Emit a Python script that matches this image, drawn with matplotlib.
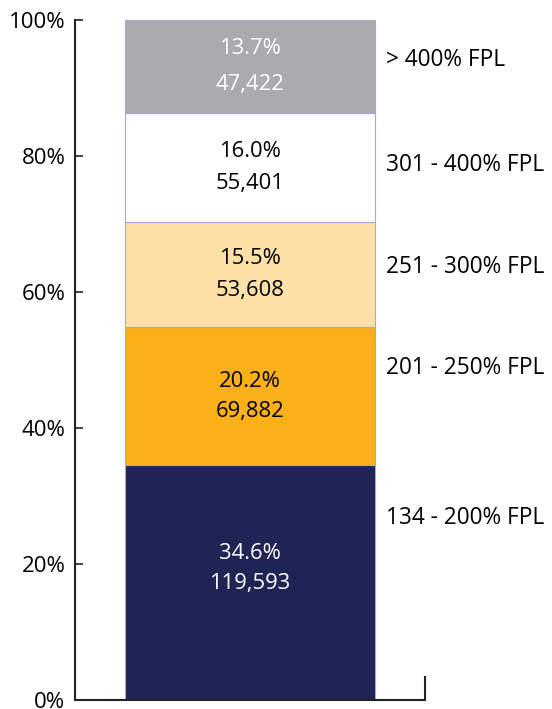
import matplotlib
matplotlib.use("Agg")
import matplotlib.pyplot as plt

categories = ["134 - 200% FPL", "201 - 250% FPL", "251 - 300% FPL", "301 - 400% FPL", "> 400% FPL"]
shares = [34.6, 20.2, 15.5, 16.0, 13.7]
counts = ["119,593", "69,882", "53,608", "55,401", "47,422"]
colors = ["#1f2455", "#fbb017", "#fde0a6", "#ffffff", "#aaabaf"]
text_colors = ["white", "black", "black", "black", "white"]
yticks = [0, 20, 40, 60, 80, 100]
ytick_labels = ["0%", "20%", "40%", "60%", "80%", "100%"]

# layout: y position (in axis %) of the right-hand labels, and line gap inside bars
right_label_y = [26.8, 48.8, 63.7, 78.7, 94.1]
inner_gap = [2.2, 2.2, 2.4, 2.4, 2.7]
inner_offset = [2.1, 0, 0, 0, 0]

plt.rcParams["font.family"] = ["Open Sans", "DejaVu Sans"]
fig = plt.figure(figsize=(5.52, 7.09), dpi=100)
ax = fig.add_axes([75 / 552, 9 / 709, 350 / 552, 680 / 709])

bottom = 0
for i, (s, c) in enumerate(zip(shares, colors)):
    ax.bar(0.5, s, width=250 / 350, bottom=bottom, color=c, edgecolor="#a8a9c4", linewidth=0.8)
    mid = bottom + s / 2 + inner_offset[i]
    ax.text(0.5, mid + inner_gap[i], f"{s:.1f}%", ha="center", va="center", fontsize=15.8, color=text_colors[i])
    ax.text(0.5, mid - inner_gap[i], counts[i], ha="center", va="center", fontsize=15.8, color=text_colors[i])
    ax.text(1.0 - 0.11, right_label_y[i], categories[i], ha="left", va="center", fontsize=16.3, color="black",
            transform=ax.transData, clip_on=False)
    bottom += s

ax.set_xlim(0, 1)
ax.set_ylim(0, 100)
ax.set_yticks(yticks)
ax.set_yticklabels(ytick_labels, fontsize=16)
ax.set_xticks([1])
ax.set_xticklabels([""])
ax.tick_params(axis="y", direction="in", length=6, width=1.2, color="#222222", pad=7)
ax.tick_params(axis="x", direction="in", length=17, width=1.5, color="#222222")
for side in ["top", "right"]:
    ax.spines[side].set_visible(False)
for side in ["left", "bottom"]:
    ax.spines[side].set_linewidth(1.5)
    ax.spines[side].set_color("#222222")

fig.savefig("out.png", dpi=100)
